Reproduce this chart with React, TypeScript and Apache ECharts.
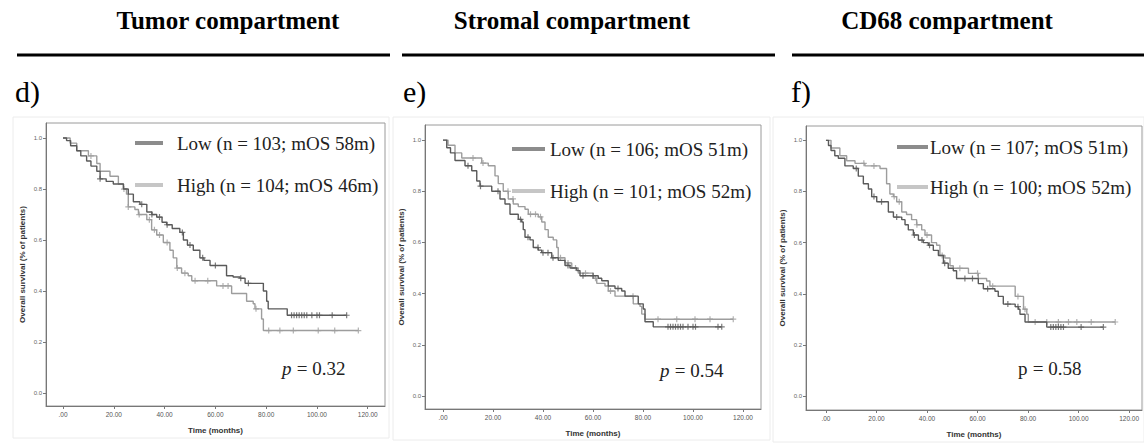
import React, { useEffect, useRef } from "react";
import * as echarts from "echarts";

const titles = ["Tumor compartment", "Stromal compartment", "CD68 compartment"];
const panelLetters = ["d)", "e)", "f)"];
const xTicks = [0, 20, 40, 60, 80, 100, 120];
const yTicks = [0, 0.2, 0.4, 0.6, 0.8, 1.0];
const legendLow = ["Low (n = 103; mOS 58m)", "Low (n = 106; mOS 51m)", "Low (n = 107; mOS 51m)"];
const legendHigh = ["High (n = 104; mOS 46m)", "High (n = 101; mOS 52m)", "High (n = 100; mOS 52m)"];
const pValues = ["0.32", "0.54", "0.58"];

// Panel d (tumor)
const tumorLow = [[0,1.0],[1.4,0.99],[3,0.97],[5.4,0.95],[7,0.93],[9.3,0.91],[11,0.89],[13.3,0.87],[14.6,0.84],[17,0.83],[19.8,0.82],[23.8,0.80],[25.7,0.78],[27.7,0.75],[30.3,0.74],[33,0.71],[35,0.70],[36.9,0.69],[39,0.67],[40.8,0.66],[43,0.645],[46,0.63],[47.4,0.60],[49,0.58],[51.3,0.56],[53.9,0.53],[55.5,0.52],[57.9,0.50],[64.4,0.46],[67,0.455],[69.7,0.45],[71.7,0.43],[78.9,0.40],[80.2,0.36],[80.8,0.33],[88.3,0.305],[111.7,0.305]];
const tumorHigh = [[0,1.0],[2.8,0.98],[5.4,0.95],[10,0.93],[13.3,0.90],[14.6,0.87],[18.5,0.85],[21.8,0.82],[23.8,0.80],[25,0.78],[25.7,0.73],[28.3,0.72],[29.7,0.70],[33,0.68],[34.9,0.64],[36.9,0.62],[39.5,0.59],[42.1,0.56],[43.4,0.53],[44.8,0.49],[46.7,0.47],[49.3,0.46],[50.7,0.44],[60.5,0.42],[66.4,0.39],[72.3,0.36],[74.9,0.35],[75.6,0.33],[78.2,0.29],[78.9,0.245],[116.3,0.245]];
const tumorLowCensor = [14.6,31,35,38,41,47,50,55,60,70,73,90,91,92,93,94,95,96,98,100,101,106,111.7];
const tumorHighCensor = [11,24,25.7,30,34,36,38,41,45,48,52,57,63,65,76,81,85.4,90.7,100.5,107,116.3];

// Panel e (stromal)
const stromalLow = [[0,1.0],[1.5,0.97],[3,0.95],[4.8,0.92],[8.8,0.90],[11.5,0.88],[13.5,0.84],[14.8,0.82],[19.5,0.80],[22.8,0.77],[24.8,0.75],[26.8,0.71],[30.1,0.69],[31.5,0.68],[32.1,0.65],[32.8,0.62],[34.8,0.61],[36.1,0.58],[38.1,0.57],[39.5,0.56],[43.5,0.54],[46.1,0.53],[48.8,0.51],[50.8,0.50],[53.5,0.49],[54.8,0.47],[62.1,0.46],[63.5,0.45],[66.1,0.43],[68.8,0.42],[71.5,0.41],[72.8,0.39],[78.1,0.36],[80.1,0.34],[80.8,0.29],[84.1,0.27],[111.5,0.27]];
const stromalHigh = [[0,1.0],[2,0.98],[4.8,0.95],[7.5,0.93],[15.5,0.91],[18.1,0.90],[20.8,0.86],[22.1,0.83],[24.1,0.80],[26.1,0.77],[28.1,0.75],[30.1,0.74],[32.8,0.73],[34.1,0.71],[38.1,0.70],[39.5,0.68],[40.8,0.65],[42.1,0.62],[44.1,0.61],[45.5,0.58],[46.1,0.54],[48.8,0.52],[51.5,0.50],[54.1,0.48],[60.1,0.46],[61.5,0.44],[64.8,0.43],[66.1,0.41],[68.8,0.39],[76.1,0.36],[78.8,0.35],[79.5,0.32],[80.8,0.30],[116.1,0.30]];
const stromalLowCensor = [10,15,22,31,34,38,40,42,44,50,56,60,70,90,91,92,93,94,95,96,98,100,101,110,111.5];
const stromalHighCensor = [12,16,26,28,35,37,39,47,50,53,57,61,67,76,86,93.5,100.8,106.8,116.1];

// Panel f (CD68)
const cd68Low = [[0,1.0],[1,0.98],[2,0.96],[3.5,0.94],[4.9,0.93],[7.5,0.90],[10.8,0.89],[12.8,0.86],[14.8,0.83],[16.8,0.81],[18.1,0.78],[20.1,0.76],[24.7,0.72],[26.7,0.70],[30,0.69],[31.3,0.67],[32.6,0.65],[34.6,0.63],[36.6,0.61],[38.5,0.60],[40.5,0.59],[42.5,0.57],[44.5,0.55],[46.5,0.52],[48.4,0.50],[50.4,0.49],[51.7,0.46],[60.3,0.44],[62.3,0.42],[66.9,0.41],[68.2,0.39],[70.2,0.36],[74.9,0.35],[76.2,0.34],[76.8,0.32],[78.8,0.29],[87.4,0.27],[109.8,0.27]];
const cd68High = [[0,1.0],[2,0.97],[5.5,0.94],[8.2,0.92],[11.5,0.91],[15.4,0.90],[21.4,0.89],[24,0.83],[25.3,0.79],[26.7,0.78],[28,0.76],[30,0.72],[31.9,0.71],[33.9,0.69],[35.9,0.67],[37.9,0.65],[39.2,0.63],[41.8,0.60],[43.8,0.59],[45.1,0.55],[47.1,0.54],[49.1,0.51],[50.4,0.50],[56.4,0.48],[60.3,0.46],[63.6,0.45],[64.9,0.43],[74.9,0.39],[78.2,0.34],[79.5,0.32],[80.1,0.29],[114.5,0.29]];
const cd68LowCensor = [12,19,22,28,35,38,41,47,55,58,64,72,76,89,90,91,92,93,94,101,109.8];
const cd68HighCensor = [15,19,27,29,36,40,46,53,60,66,76,78.8,82.8,87.4,92,96,99.3,105,114.5];

const lowCurves = [tumorLow, stromalLow, cd68Low];
const highCurves = [tumorHigh, stromalHigh, cd68High];
const lowCensors = [tumorLowCensor, stromalLowCensor, cd68LowCensor];
const highCensors = [tumorHighCensor, stromalHighCensor, cd68HighCensor];

const layout = [
  { grid: { left: 46, top: 123, width: 339, height: 283 }, x: [-6.7, 126.8], y: [-0.051, 1.059], titleX: 228, lineX: [17, 390], letterX: 15, legLine: [135, 163], legText: 177, legLowY: 143, legHighY: 185, pX: 282, pY: 368, pItalic: true, frame: [13, 117, 376, 321] },
  { grid: { left: 425, top: 125, width: 336, height: 284 }, x: [-7.2, 127.2], y: [-0.051, 1.059], titleX: 572, lineX: [402, 775], letterX: 403, legLine: [512, 545], legText: 550, legLowY: 149, legHighY: 191, pX: 660, pY: 370, pItalic: true, frame: [393, 117, 377, 323] },
  { grid: { left: 806, top: 126, width: 336, height: 286 }, x: [-7.9, 125.1], y: [-0.054, 1.056], titleX: 947, lineX: [792, 1144], letterX: 791, legLine: [897, 928], legText: 930, legLowY: 147, legHighY: 187, pX: 1018, pY: 368, pItalic: false, frame: [773, 117, 371, 325] },
];

const LOW_COLOR = "#5a5a5a";
const HIGH_COLOR = "#9d9d9d";
const SERIF = "'Liberation Serif', 'Times New Roman', serif";
const SANS = "'Liberation Sans', Arial, sans-serif";
const PLUS = "path://M4,0H6V4H10V6H6V10H4V6H0V4H4Z";

function survAt(curve: number[][], t: number): number {
  let v = curve[0][1];
  for (const [tt, s] of curve) {
    if (tt <= t + 1e-9) v = s;
    else break;
  }
  return v;
}

export default function App() {
  const ref = useRef<HTMLDivElement>(null);
  useEffect(() => {
    if (!ref.current) return;
    const chart = echarts.init(ref.current, undefined, { renderer: "svg" });

    const grids: any[] = [];
    const xAxes: any[] = [];
    const yAxes: any[] = [];
    const series: any[] = [];
    const graphic: any[] = [];

    layout.forEach((L, i) => {
      grids.push({ ...L.grid, show: true, borderColor: "#9a9a9a", borderWidth: 1, backgroundColor: "transparent" });
      xAxes.push({
        type: "value", gridIndex: i, min: L.x[0], max: L.x[1],
        name: "Time (months)", nameLocation: "middle", nameGap: 20,
        nameTextStyle: { fontFamily: SANS, fontWeight: "bold", fontSize: 8, color: "#333" },
        axisLine: { show: true, onZero: false, lineStyle: { color: "#777", width: 1 } },
        axisTick: { show: true, customValues: xTicks, length: 3, lineStyle: { color: "#777" } },
        axisLabel: { customValues: xTicks, fontFamily: SANS, fontSize: 6.5, color: "#555", margin: 5,
          formatter: (v: number) => (v === 0 ? ".00" : v.toFixed(2)) },
        splitLine: { show: false },
      });
      yAxes.push({
        type: "value", gridIndex: i, min: L.y[0], max: L.y[1],
        name: "Overall survival (% of patients)", nameLocation: "middle", nameGap: 20, nameRotate: 90,
        nameTextStyle: { fontFamily: SANS, fontWeight: "bold", fontSize: 8, color: "#333" },
        axisLine: { show: true, onZero: false, lineStyle: { color: "#777", width: 1 } },
        axisTick: { show: true, customValues: yTicks, length: 3, lineStyle: { color: "#777" } },
        axisLabel: { customValues: yTicks, fontFamily: SANS, fontSize: 6, color: "#666", margin: 4,
          formatter: (v: number) => v.toFixed(1) },
        splitLine: { show: false },
      });

      series.push({
        type: "line", xAxisIndex: i, yAxisIndex: i, data: highCurves[i], step: "end",
        showSymbol: false, lineStyle: { color: HIGH_COLOR, width: 1.4 }, z: 2, silent: true,
      });
      series.push({
        type: "scatter", xAxisIndex: i, yAxisIndex: i,
        data: highCensors[i].map((t) => [t, survAt(highCurves[i], t)]),
        symbol: PLUS, symbolSize: 6, itemStyle: { color: HIGH_COLOR }, z: 3, silent: true,
      });
      series.push({
        type: "line", xAxisIndex: i, yAxisIndex: i, data: lowCurves[i], step: "end",
        showSymbol: false, lineStyle: { color: LOW_COLOR, width: 1.4 }, z: 4, silent: true,
      });
      series.push({
        type: "scatter", xAxisIndex: i, yAxisIndex: i,
        data: lowCensors[i].map((t) => [t, survAt(lowCurves[i], t)]),
        symbol: PLUS, symbolSize: 6, itemStyle: { color: LOW_COLOR }, z: 5, silent: true,
      });

      // faint outer frame
      graphic.push({ type: "rect", shape: { x: L.frame[0], y: L.frame[1], width: L.frame[2], height: L.frame[3] },
        style: { fill: "none", stroke: "#ececec", lineWidth: 1 }, z: 0 });
      // title
      graphic.push({ type: "text", x: L.titleX, y: 20, style: { text: titles[i], font: `bold 25px ${SERIF}`,
        fill: "#000", align: "center", verticalAlign: "middle" } });
      // rule
      graphic.push({ type: "line", shape: { x1: L.lineX[0], y1: 55, x2: L.lineX[1], y2: 55 },
        style: { stroke: "#000", lineWidth: 3 } });
      // panel letter
      graphic.push({ type: "text", x: L.letterX, y: 91, style: { text: panelLetters[i], font: `30px ${SERIF}`,
        fill: "#000", align: "left", verticalAlign: "middle" } });
      // legend
      graphic.push({ type: "line", shape: { x1: L.legLine[0], y1: L.legLowY, x2: L.legLine[1], y2: L.legLowY },
        style: { stroke: "#8c8c8c", lineWidth: 4 }, z: 10 });
      graphic.push({ type: "text", x: L.legText, y: L.legLowY, style: { text: legendLow[i], font: `19px ${SERIF}`,
        fill: "#222", align: "left", verticalAlign: "middle" }, z: 10 });
      graphic.push({ type: "line", shape: { x1: L.legLine[0], y1: L.legHighY, x2: L.legLine[1], y2: L.legHighY },
        style: { stroke: "#c6c6c6", lineWidth: 4 }, z: 10 });
      graphic.push({ type: "text", x: L.legText, y: L.legHighY, style: { text: legendHigh[i], font: `19px ${SERIF}`,
        fill: "#222", align: "left", verticalAlign: "middle" }, z: 10 });
      // p-value
      graphic.push({ type: "text", x: L.pX, y: L.pY, style: { text: "p", font: `${L.pItalic ? "italic " : ""}19px ${SERIF}`,
        fill: "#222", align: "left", verticalAlign: "middle" }, z: 10 });
      graphic.push({ type: "text", x: L.pX + 10, y: L.pY, style: { text: " = " + pValues[i], font: `19px ${SERIF}`,
        fill: "#222", align: "left", verticalAlign: "middle" }, z: 10 });
    });

    chart.setOption({
      animation: false,
      backgroundColor: "#fff",
      grid: grids,
      xAxis: xAxes,
      yAxis: yAxes,
      series,
      graphic,
    });
    return () => chart.dispose();
  }, []);

  return <div ref={ref} style={{ position: "fixed", left: 0, top: 0, width: 1144, height: 443 }} />;
}
